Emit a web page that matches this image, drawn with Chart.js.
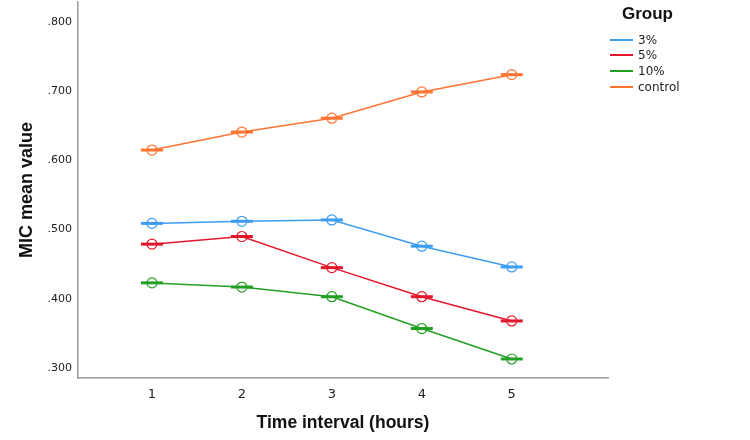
<!DOCTYPE html>
<html>
<head>
<meta charset="utf-8">
<script src="https://cdn.jsdelivr.net/npm/chart.js@4"></script>
<style>
  html, body { margin: 0; padding: 0; background: #fff; }
  #wrap { position: relative; width: 750px; height: 440px; }
  #legend { position: absolute; left: 610px; top: 4px; font-family: "DejaVu Sans", sans-serif; }
  #legend .title { font-family: "Liberation Sans", Arial, sans-serif; font-weight: bold; font-size: 17px; color: #111; margin-left: 12px; margin-bottom: 8px; }
  #legend .item { display: flex; align-items: center; height: 15.6px; font-size: 12px; color: #222; }
  #legend .swatch { width: 23px; height: 2px; margin-right: 5px; }
</style>
</head>
<body>
<div id="wrap">
  <canvas id="c" width="750" height="440"></canvas>
  <div id="legend"></div>
</div>
<script>
const categories = [1, 2, 3, 4, 5];
const seriesNames = ["3%", "5%", "10%", "control"];
const values3 = [0.509, 0.512, 0.514, 0.476, 0.446];
const values5 = [0.479, 0.490, 0.445, 0.403, 0.368];
const values10 = [0.423, 0.417, 0.403, 0.357, 0.313];
const valuesControl = [0.615, 0.641, 0.661, 0.699, 0.724];
const yTicks = [0.3, 0.4, 0.5, 0.6, 0.7, 0.8];
const colors = ["#3d9df2", "#e4162b", "#23a023", "#ff7433"];

const allValues = [values3, values5, values10, valuesControl];
const toPts = arr => arr.map((v, i) => ({ x: categories[i], y: v }));

const datasets = [];
allValues.forEach((arr, k) => {
  datasets.push({
    label: seriesNames[k],
    data: toPts(arr),
    borderColor: colors[k],
    backgroundColor: 'rgba(0,0,0,0)',
    borderWidth: 1.5,
    pointStyle: 'circle',
    pointRadius: 5,
    pointBorderWidth: 1.2,
    pointBorderColor: colors[k],
    pointBackgroundColor: 'rgba(0,0,0,0)',
    tension: 0,
    order: 1
  });
  datasets.push({
    label: seriesNames[k] + ' bar',
    data: toPts(arr),
    showLine: false,
    borderColor: colors[k],
    pointStyle: 'line',
    pointRadius: 11,
    pointBorderWidth: 3,
    pointBorderColor: colors[k],
    order: 2
  });
});

const legendEl = document.getElementById('legend');
legendEl.innerHTML = '<div class="title">Group</div>' + seriesNames.map((n, k) =>
  `<div class="item"><span class="swatch" style="background:${colors[k]}"></span>${n}</div>`).join('');

new Chart(document.getElementById('c'), {
  type: 'line',
  data: { datasets },
  options: {
    responsive: false,
    animation: false,
    layout: { autoPadding: false, padding: { top: 2, right: 142, left: 0, bottom: 0 } },
    plugins: { legend: { display: false }, tooltip: { enabled: false } },
    scales: {
      x: {
        type: 'linear',
        min: 0.178, max: 6.07,
        afterBuildTicks: s => { s.ticks = categories.map(v => ({ value: v })); },
        afterFit: s => { s.height = 62; s.paddingLeft = 0; s.paddingRight = 0; },
        grid: { display: false, drawTicks: false },
        border: { color: '#9a9a9a', width: 1.5 },
        ticks: { padding: 9, color: '#222', font: { family: 'DejaVu Sans', size: 13 },
          callback: v => String(v) },
        title: { display: true, text: 'Time interval (hours)', color: '#111',
          font: { family: 'Liberation Sans', size: 17.5, weight: 'bold' }, padding: { top: 0, bottom: 6 } }
      },
      y: {
        min: 0.2855, max: 0.829,
        afterBuildTicks: s => { s.ticks = yTicks.map(v => ({ value: v })); },
        afterFit: s => { s.width = 78; s.paddingTop = 0; s.paddingBottom = 0; },
        grid: { display: false, drawTicks: false },
        border: { color: '#9a9a9a', width: 1.5 },
        ticks: { padding: 6, color: '#222', font: { family: 'DejaVu Sans', size: 11 },
          callback: v => v.toFixed(3).replace(/^0/, '') },
        title: { display: true, text: 'MIC mean value', color: '#111',
          font: { family: 'Liberation Sans', size: 18, weight: 'bold' }, padding: { top: 16, bottom: 0 } }
      }
    }
  }
});
</script>
</body>
</html>
